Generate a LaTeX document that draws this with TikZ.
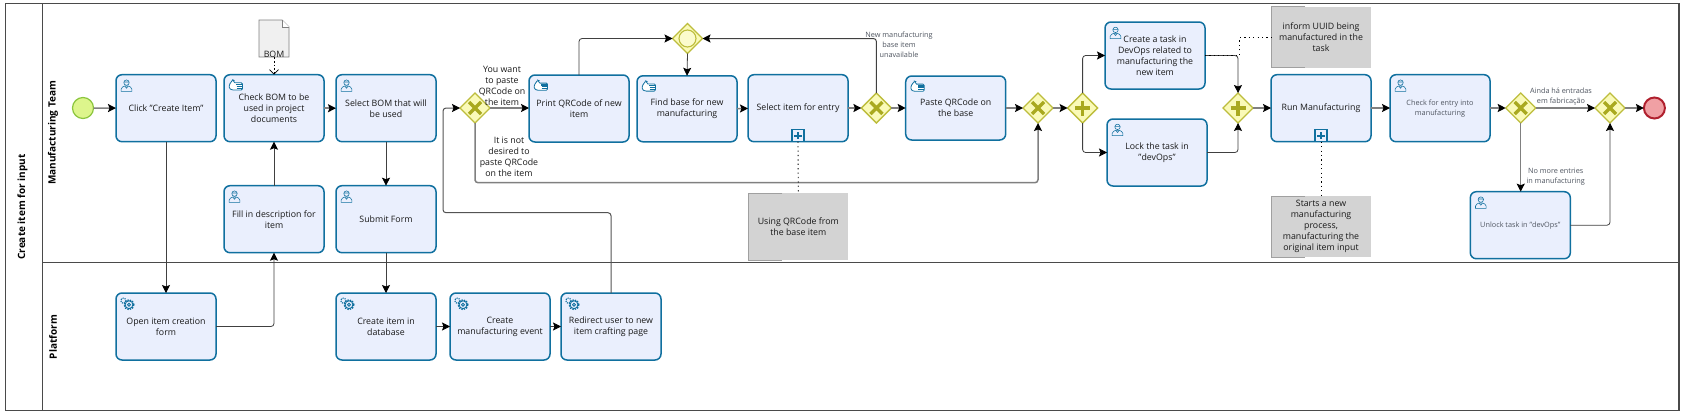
\documentclass[tikz,border=0pt]{standalone}
\usepackage{fontspec}
\setmainfont{Open Sans}
\usetikzlibrary{shapes.geometric,arrows.meta,calc}
\definecolor{taskfill}{HTML}{EAEFFD}
\definecolor{taskline}{HTML}{10709F}
\definecolor{gwfill}{HTML}{FAFAB8}
\definecolor{gwline}{HTML}{BDBD3C}
\definecolor{gwmark}{HTML}{A9A91F}
\definecolor{poolline}{HTML}{4A4A4A}
\definecolor{flowdark}{HTML}{404040}
\definecolor{flowgray}{HTML}{808080}
\definecolor{annofill}{HTML}{D3D3D3}
\definecolor{annoedge}{HTML}{A0A0A0}
\definecolor{softtext}{HTML}{4F5560}
\definecolor{startfill}{HTML}{DDF58C}
\definecolor{startline}{HTML}{8CC63E}
\definecolor{endfill}{HTML}{F0A0A4}
\definecolor{endline}{HTML}{B0202E}
\tikzset{
  tasktext/.style={font=\fontsize{8.8}{11}\selectfont,text=black!90},
  smalltext/.style={font=\fontsize{7.3}{10}\selectfont,text=softtext},
  task/.style={draw=taskline,fill=taskfill,line width=1.5,rounded corners=6,minimum width=100,minimum height=67,inner sep=0,outer sep=0,align=center,tasktext},
  gatewaybase/.style={diamond,aspect=1,draw=gwline,fill=gwfill,line width=1.3,minimum width=30,minimum height=30,inner sep=0,outer sep=0},
  gatewayx/.style={gatewaybase,path picture={\draw[gwmark,line width=3.4] (-6,-6) -- (6,6) (-6,6) -- (6,-6);}},
  gatewayplus/.style={gatewaybase,path picture={\draw[gwmark,line width=3.4] (-7.5,0) -- (7.5,0) (0,-7.5) -- (0,7.5);}},
  gatewayevent/.style={gatewaybase,path picture={\draw[gwline,line width=1.1,fill=gwfill!70!white] (0,0) circle (8.5);}},
  head/.style={-{Stealth[length=8,width=8,inset=1.5,color=black,fill=black]}},
  flow/.style={draw=flowdark,line width=0.8,rounded corners=3,head},
  flowg/.style={draw=flowgray,line width=1.5,rounded corners=3,head},
  assoc/.style={draw=black,line width=0.9,dash pattern=on 1.2 off 3.2},
  anno/.style={fill=annofill,minimum width=100,inner sep=0,outer sep=0,align=center,tasktext},
  annoedgeline/.style={draw=annoedge,line width=1},
  lanetitle/.style={rotate=90,font=\fontsize{10}{12}\selectfont\bfseries,text=black},
  edgelabel/.style={align=center,tasktext,inner sep=0},
  smalllabel/.style={align=center,smalltext,inner sep=0},
  submark/.style={draw=taskline,fill=taskfill,line width=1.2,minimum size=12,inner sep=0,outer sep=0,path picture={\draw[taskline,line width=1.8] (-3.6,0) -- (3.6,0) (0,-3.6) -- (0,3.6);}},
  usericon/.pic={
    \draw[taskline,line width=0.55,fill=taskfill] (0,-2.8) circle (2.7);
    \draw[taskline,line width=0.55] (-5.3,6) -- (-5.3,3.6) .. controls (-5.3,1.6) and (-3,1.4) .. (-1.8,0.6) -- (1.8,0.6) .. controls (3,1.4) and (5.3,1.6) .. (5.3,3.6) -- (5.3,6) -- cycle;
    \draw[taskline,line width=0.55] (-2.6,-3.4) -- (2.6,-3.4) (-1.6,0.8) -- (0,2.8) -- (1.6,0.8);
  },
  handicon/.pic={
    \draw[taskline,line width=0.8,fill=white,rounded corners=1.2] (-6.5,-0.6) -- (-3,-5.6) -- (-1.6,-5) -- (-2,-2.6) -- (6.8,-2.6) -- (6.8,4.6) -- (-3.6,4.6) -- (-6.5,3) -- cycle;
    \draw[taskline,line width=1.1] (0.6,-0.7) -- (6.8,-0.7) (1,1) -- (6.8,1) (1,2.9) -- (6.4,2.9);
  },
  gearicon/.pic={
    \draw[taskline,line width=1.3,dash pattern=on 1.4 off 1.2] (2,1.2) circle (4.9);
    \draw[taskline,line width=0.9] (2,1.2) circle (3.9);
    \draw[taskline,line width=0.9] (2,1.2) circle (1.5);
    \draw[taskline,line width=1.1,dash pattern=on 1.2 off 1] (-3.6,-2.8) circle (2.6);
  },
}
\begin{document}
\begin{tikzpicture}[x=1pt,y=-1pt]
\useasboundingbox (0,0) rectangle (1685,418);
\fill[white] (0,0) rectangle (1685,418);

% pool and lanes
\coordinate (poolNW) at (5.5,3.7);
\coordinate (poolSE) at (1679,410.3);
\coordinate (laneTop) at (42.5,3.7);
\coordinate (laneBot) at (42.5,410.3);
\coordinate (divL) at (42.5,262.3);
\coordinate (divR) at (1679,262.3);
\draw[poolline,line width=1.1] (poolNW) rectangle (poolSE);
\draw[poolline,line width=1.1] (laneTop) -- (laneBot);
\draw[poolline,line width=1.1] (divL) -- (divR);
\node[lanetitle] (pooltitle) at (22.5,207) {Create item for input};
\node[lanetitle] (lane1) at (53,133) {Manufacturing Team};
\node[lanetitle] (lane2) at (53,337) {Platform};

% events
\node[circle,draw=startline,fill=startfill,line width=1.2,minimum size=21,inner sep=0,outer sep=0] (start) at (83,108) {};
\node[circle,draw=endline,fill=endfill,line width=2,minimum size=21,inner sep=0,outer sep=0] (finish) at (1654.4,108) {};

% tasks: first lane
\node[task] (click) at (166,108.2) {Click "Create Item"};
\node[task] (check) at (274,108.2) {Check BOM to be\\used in project\\documents};
\node[task] (selbom) at (386,108.2) {Select BOM that will\\be used};
\node[task] (fill) at (274,219.2) {Fill in description for\\item};
\node[task] (submit) at (386,219.2) {Submit Form};
\node[task] (print) at (579,108.5) {Print QRCode of new\\item};
\node[task,minimum height=66] (findbase) at (687,108.8) {Find base for new\\manufacturing};
\node[task] (selentry) at (798,108.2) {\raisebox{2.4pt}{Select item for entry}};
\node[task,minimum height=64] (paste) at (955.7,108) {Paste QRCode on\\the base};
\node[task] (mktask) at (1155,55.5) {Create a task in\\DevOps related to\\manufacturing the\\new item};
\node[task] (lock) at (1157,152.5) {Lock the task in\\"devOps"};
\node[task] (run) at (1321,108.2) {\raisebox{2.4pt}{Run Manufacturing}};
\node[task,smalltext] (chk) at (1440,108.2) {Check for entry into\\manufacturing};
\node[task,smalltext] (unlock) at (1520.3,225.2) {Unlock task in "devOps"};

% tasks: second lane
\node[task] (openform) at (166,326.5) {Open item creation\\form};
\node[task] (dbitem) at (386,326.5) {Create item in\\database};
\node[task] (mfgevent) at (500,326.5) {Create\\manufacturing event};
\node[task] (redirect) at (611,326.5) {Redirect user to new\\item crafting page};

% markers
\node[submark,anchor=south] (mark1) at (selentry.south) {};
\node[submark,anchor=south] (mark2) at (run.south) {};

% task icons
\pic at ([shift={(10.5,10.7)}]click.north west) {usericon};
\pic at ([shift={(11.7,10.7)}]check.north west) {handicon};
\pic at ([shift={(10.5,10.7)}]selbom.north west) {usericon};
\pic at ([shift={(10.5,10.7)}]fill.north west) {usericon};
\pic at ([shift={(10.5,10.7)}]submit.north west) {usericon};
\pic at ([shift={(11.7,10.7)}]print.north west) {handicon};
\pic at ([shift={(11.7,10.7)}]findbase.north west) {handicon};
\pic at ([shift={(11.7,10.7)}]paste.north west) {handicon};
\pic at ([shift={(10.5,10.7)}]mktask.north west) {usericon};
\pic at ([shift={(10.5,10.7)}]lock.north west) {usericon};
\pic at ([shift={(10.5,10.7)}]chk.north west) {usericon};
\pic at ([shift={(10.5,10.7)}]unlock.north west) {usericon};
\pic at ([shift={(11,10.5)}]openform.north west) {gearicon};
\pic at ([shift={(11,10.5)}]dbitem.north west) {gearicon};
\pic at ([shift={(11,10.5)}]mfgevent.north west) {gearicon};
\pic at ([shift={(11,10.5)}]redirect.north west) {gearicon};

% gateways
\node[gatewayx] (gwa) at (475,108) {};
\node[gatewayevent] (gwb) at (687.5,38.5) {};
\node[gatewayx] (gwc) at (876.4,108) {};
\node[gatewayx] (gwd) at (1038,108) {};
\node[gatewayplus] (gwe) at (1082.6,108) {};
\node[gatewayplus] (gwf) at (1238,108) {};
\node[gatewayx] (gwg) at (1520.7,108) {};
\node[gatewayx] (gwh) at (1610,108) {};

% annotations
\node[anno,minimum height=60.7] (noteuuid) at (1321,37.3) {inform UUID being\\manufactured in the\\task};
\node[anno,minimum height=61] (notestart) at (1321,226.5) {Starts a new\\manufacturing\\process,\\manufacturing the\\original item input};
\node[anno,minimum height=67] (noteqr) at (798.3,226.5) {Using QRCode from\\the base item};
\foreach \n in {noteuuid,notestart,noteqr}{
  \draw[annoedgeline] ([shift={(34,0)}]\n.north west) -- (\n.north west) -- (\n.south west) -- ([shift={(34,0)}]\n.south west);
}

% data object
\node[minimum width=30,minimum height=37,inner sep=0,outer sep=0] (bom) at (274,38.5) {};
\draw[draw=flowgray,fill=black!6,line width=0.9] (bom.north west) -- ([shift={(-7,0)}]bom.north east) -- ([shift={(0,7)}]bom.north east) -- (bom.south east) -- (bom.south west) -- cycle;
\draw[draw=flowgray,fill=white,line width=0.6] ([shift={(-7,0)}]bom.north east) -- ([shift={(-7,7)}]bom.north east) -- ([shift={(0,7)}]bom.north east);
\node[tasktext,inner sep=0,anchor=south] (bomlabel) at ([shift={(0,1)}]bom.south) {BOM};
\draw[draw=black,line width=0.7,dash pattern=on 1.8 off 2,-{Straight Barb[length=4.5,width=9]}] (bom.south) -- (check.north);

% connectors
\draw[flowg] (start) -- (click);
\draw[flow] (click) -- (openform);
\draw[flow] (openform.east) -| (fill.south);
\draw[flow] (fill) -- (check);
\draw[flowg] (check) -- (selbom);
\draw[flow] (selbom) -- (submit);
\draw[flow] (submit) -- (dbitem);
\draw[flow] (dbitem) -- (mfgevent);
\draw[flow] (mfgevent) -- (redirect);

\coordinate (loopL) at (443,212.7);
\draw[flow,draw=flowdark!70!flowgray,line width=1] (redirect.north) |- (loopL) |- (gwa.west);
\draw[flowg] (gwa.east) -- (print.west |- gwa.east);
\coordinate (skipY) at (475,182.7);
\draw[flowg] (gwa.south) |- (skipY) -| (gwd.south);
\draw[flow] (print.north) |- (gwb.west);
\draw[flow] (gwb.south) -- (findbase.north);
\draw[flowg] (findbase) -- (selentry);
\draw[flowg] (selentry.east |- gwc.west) -- (gwc.west);
\draw[flow,line width=1] (gwc.north) |- (gwb.east);
\draw[flowg] (gwc.east) -- (paste.west);
\draw[flowg] (paste.east) -- (gwd.west);
\draw[flowg] (gwd.east) -- (gwe.west);
\draw[flow] (gwe.north) |- (mktask.west);
\draw[flow] (gwe.south) |- (lock.west);
\draw[flow] (mktask.east) -| (gwf.north);
\draw[flow] (lock.east) -| (gwf.south);
\draw[flowg] (gwf.east) -- (run.west |- gwf.east);
\draw[flowg] (run.east |- gwf.east) -- (chk.west |- gwf.east);
\draw[flowg] (chk.east |- gwg.west) -- (gwg.west);
\draw[flowg] (gwg.east) -- (gwh.west);
\draw[flowg] (gwh.east) -- (finish.west);
\draw[flowg] (gwg.south) -- (unlock.north -| gwg.south);
\draw[flow] (unlock.east) -| (gwh.south);

% associations
\coordinate (bendA) at (1239.4,55.5);
\coordinate (bendB) at (1239.4,37.7);
\draw[assoc] (mktask.east) -- (bendA) -- (bendB) -- (noteuuid.west |- bendB);
\draw[assoc] (mark1.south) -- (noteqr.north);
\draw[assoc] (mark2.south) -- (notestart.north);

% flow labels
\node[edgelabel] (lblwant) at (502,86) {You want\\to paste\\QRCode on\\the item};
\node[edgelabel] (lblnot) at (509,157) {It is not\\desired to\\paste QRCode\\on the item};
\node[smalllabel] (lblbase) at (899,44.7) {New manufacturing\\base item\\unavailable};
\node[smalllabel] (lblainda) at (1561,97) {Ainda há entradas\\em fabricação};
\node[smalllabel] (lblnomore) at (1555.7,177) {No more entries\\in manufacturing};
\end{tikzpicture}
\end{document}
